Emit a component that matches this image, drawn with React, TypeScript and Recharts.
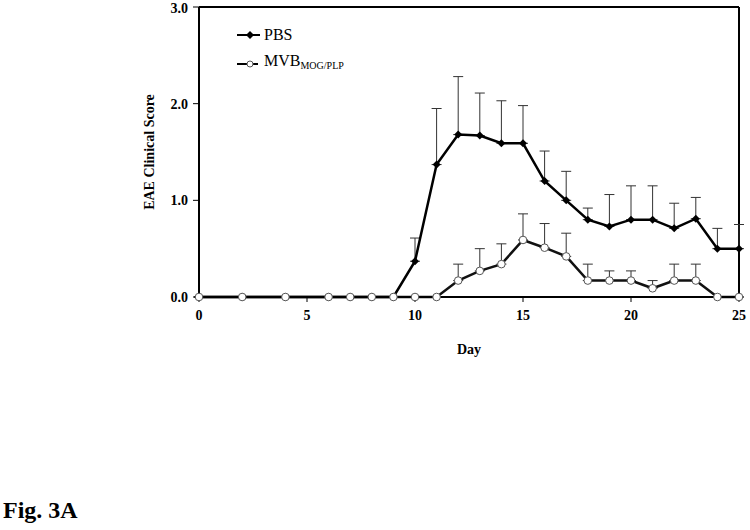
import { CartesianGrid, ErrorBar, Line, LineChart, ReferenceLine, XAxis, YAxis } from 'recharts'

const days = [0, 2, 4, 6, 7, 8, 9, 10, 11, 12, 13, 14, 15, 16, 17, 18, 19, 20, 21, 22, 23, 24, 25]
const pbs = [0, 0, 0, 0, 0, 0, 0, 0.37, 1.37, 1.68, 1.67, 1.59, 1.59, 1.2, 1.0, 0.8, 0.73, 0.8, 0.8, 0.71, 0.81, 0.5, 0.5]
const pbsErr = [0, 0, 0, 0, 0, 0, 0, 0.24, 0.58, 0.6, 0.44, 0.44, 0.39, 0.31, 0.3, 0.12, 0.33, 0.35, 0.35, 0.26, 0.22, 0.21, 0.25]
const mvb = [0, 0, 0, 0, 0, 0, 0, 0, 0, 0.17, 0.27, 0.34, 0.59, 0.51, 0.42, 0.17, 0.17, 0.17, 0.09, 0.17, 0.17, 0, 0]
const mvbErr = [0, 0, 0, 0, 0, 0, 0, 0, 0, 0.17, 0.23, 0.21, 0.27, 0.25, 0.24, 0.17, 0.1, 0.1, 0.08, 0.17, 0.17, 0, 0]
const xTicks = [0, 5, 10, 15, 20, 25]
const yTicks = [0, 1, 2, 3]

const data = days.map((d, i) => ({
  day: d,
  pbs: pbs[i],
  pbsErr: [0, pbsErr[i]],
  mvb: mvb[i],
  mvbErr: [0, mvbErr[i]],
}))

const font = '"Liberation Serif", "Times New Roman", serif'
const tickStyle = { fontFamily: font, fontSize: 14, fontWeight: 'bold', fill: '#000' }

function Diamond(props: any) {
  const { cx, cy } = props
  if (cx == null || cy == null) return null
  const s = 4
  return <polygon points={`${cx},${cy - s} ${cx + s},${cy} ${cx},${cy + s} ${cx - s},${cy}`} fill="#000" />
}

function Circle(props: any) {
  const { cx, cy } = props
  if (cx == null || cy == null) return null
  return <circle cx={cx} cy={cy} r={3.8} fill="#fff" stroke="#555" strokeWidth={1} />
}

function App() {
  return (
    <div style={{ position: 'absolute', left: 0, top: 0, width: 750, height: 530, background: '#fff', fontFamily: font }}>
      <LineChart width={750} height={530} data={data} margin={{ top: 7, right: 11, bottom: 203, left: 139 }}>
        <CartesianGrid stroke="none" />
        <XAxis
          dataKey="day"
          type="number"
          domain={[0, 25]}
          ticks={xTicks}
          tick={tickStyle}
          tickSize={5}
          tickMargin={8}
          axisLine={{ stroke: '#000', strokeWidth: 2 }}
          tickLine={{ stroke: '#000', strokeWidth: 1 }}
          height={30}
          label={{ value: 'Day', position: 'insideBottom', offset: -27, style: { ...tickStyle } }}
        />
        <YAxis
          type="number"
          domain={[0, 3]}
          ticks={yTicks}
          tickFormatter={(v: number) => v.toFixed(1)}
          tick={tickStyle}
          tickSize={6}
          tickMargin={5}
          width={60}
          axisLine={{ stroke: '#000', strokeWidth: 2 }}
          tickLine={{ stroke: '#000', strokeWidth: 1 }}
          label={{ value: 'EAE Clinical Score', angle: -90, position: 'insideLeft', offset: 10, style: { ...tickStyle, textAnchor: 'middle' } }}
        />
        <ReferenceLine y={3} stroke="#000" strokeWidth={2} />
        <ReferenceLine x={25} stroke="#000" strokeWidth={2} />
        <Line dataKey="pbs" stroke="#000" strokeWidth={2.5} dot={<Diamond />} activeDot={false} isAnimationActive={false}>
          <ErrorBar dataKey="pbsErr" direction="y" width={5} stroke="#333" strokeWidth={1} />
        </Line>
        <Line dataKey="mvb" stroke="#111" strokeWidth={2.5} dot={<Circle />} activeDot={false} isAnimationActive={false}>
          <ErrorBar dataKey="mvbErr" direction="y" width={5} stroke="#333" strokeWidth={1} />
        </Line>
      </LineChart>
      <div style={{ position: 'absolute', left: 237, top: 22, fontSize: 16, color: '#000', lineHeight: '26px' }}>
        <div style={{ display: 'flex', alignItems: 'center' }}>
          <svg width={25} height={12}>
            <line x1={0} y1={6} x2={23} y2={6} stroke="#000" strokeWidth={2} />
            <polygon points="13,2 17,6 13,10 9,6" fill="#000" />
          </svg>
          <span style={{ marginLeft: 2 }}>PBS</span>
        </div>
        <div style={{ display: 'flex', alignItems: 'center' }}>
          <svg width={25} height={12}>
            <line x1={0} y1={6} x2={21} y2={6} stroke="#000" strokeWidth={2} />
            <circle cx={13} cy={6} r={3} fill="#fff" stroke="#555" strokeWidth={1} />
          </svg>
          <span style={{ marginLeft: 2 }}>
            MVB<sub style={{ fontSize: 10, verticalAlign: '-3px' }}>MOG/PLP</sub>
          </span>
        </div>
      </div>
      <div style={{ position: 'absolute', left: 3, top: 497, fontSize: 24, fontWeight: 'bold', color: '#000' }}>Fig. 3A</div>
    </div>
  )
}

export default App
